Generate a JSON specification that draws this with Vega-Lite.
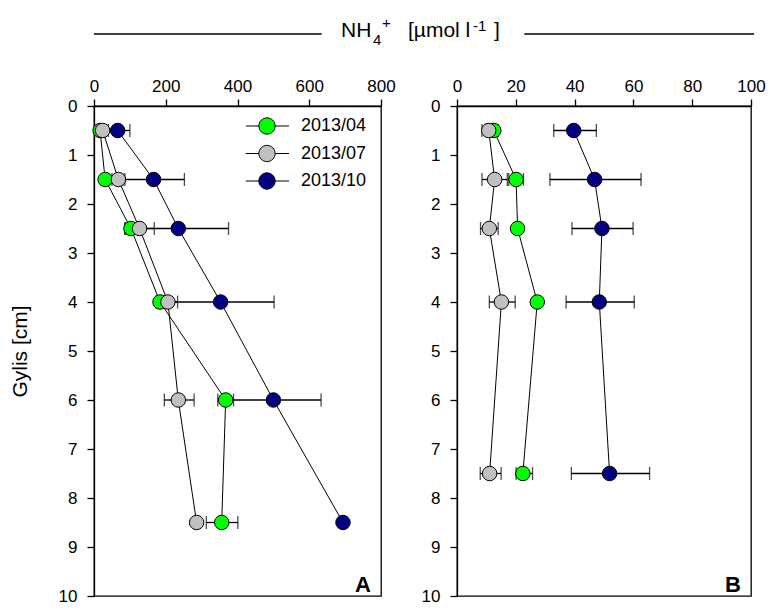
{
  "$schema": "https://vega.github.io/schema/vega-lite/v6.json",
  "padding": {"left": 8, "top": 0, "right": 0, "bottom": 0},
  "config": {
    "font": "Liberation Sans",
    "view": {"stroke": "black", "strokeWidth": 1.3},
    "axis": {
      "grid": false,
      "domainColor": "black",
      "domainWidth": 1.3,
      "tickColor": "black",
      "tickWidth": 1.3,
      "tickSize": 7,
      "labelColor": "black",
      "labelFont": "Liberation Sans",
      "labelFontSize": 17,
      "labelFlush": false,
      "labelOverlap": false,
      "titleColor": "black",
      "titleFont": "Liberation Sans",
      "titleFontSize": 21,
      "titleFontWeight": "normal"
    },
    "legend": {
      "labelFont": "Liberation Sans",
      "labelFontSize": 18,
      "labelColor": "black"
    },
    "text": {"font": "Liberation Sans", "color": "black", "align": "left", "baseline": "alphabetic"}
  },
  "datasets": {
    "ammonium_a": [
      {"depth": 0.5, "date": "2013/04", "val": 17, "lo": 9, "hi": 25},
      {"depth": 0.5, "date": "2013/07", "val": 24, "lo": 8, "hi": 40},
      {"depth": 0.5, "date": "2013/10", "val": 66, "lo": 32, "hi": 100},
      {"depth": 1.5, "date": "2013/04", "val": 31, "lo": 21, "hi": 41},
      {"depth": 1.5, "date": "2013/07", "val": 68, "lo": 50, "hi": 86},
      {"depth": 1.5, "date": "2013/10", "val": 166, "lo": 80, "hi": 252},
      {"depth": 2.5, "date": "2013/04", "val": 103, "lo": 87, "hi": 119},
      {"depth": 2.5, "date": "2013/07", "val": 127, "lo": 86, "hi": 168},
      {"depth": 2.5, "date": "2013/10", "val": 235, "lo": 95, "hi": 375},
      {"depth": 4, "date": "2013/04", "val": 184, "lo": 172, "hi": 196},
      {"depth": 4, "date": "2013/07", "val": 206, "lo": 179, "hi": 233},
      {"depth": 4, "date": "2013/10", "val": 353, "lo": 204, "hi": 502},
      {"depth": 6, "date": "2013/04", "val": 367, "lo": 345, "hi": 389},
      {"depth": 6, "date": "2013/07", "val": 235, "lo": 196, "hi": 279},
      {"depth": 6, "date": "2013/10", "val": 500, "lo": 367, "hi": 633},
      {"depth": 8.5, "date": "2013/04", "val": 356, "lo": 313, "hi": 401},
      {"depth": 8.5, "date": "2013/07", "val": 286, "lo": 278, "hi": 294},
      {"depth": 8.5, "date": "2013/10", "val": 694, "lo": 690, "hi": 698}
    ],
    "ammonium_b": [
      {"depth": 0.5, "date": "2013/04", "val": 12.5, "lo": 11, "hi": 14},
      {"depth": 0.5, "date": "2013/07", "val": 10.8, "lo": 8.5, "hi": 13.1},
      {"depth": 0.5, "date": "2013/10", "val": 39.7, "lo": 32.9, "hi": 47.4},
      {"depth": 1.5, "date": "2013/04", "val": 20.1, "lo": 17.6, "hi": 22.6},
      {"depth": 1.5, "date": "2013/07", "val": 12.8, "lo": 8.5, "hi": 17.1},
      {"depth": 1.5, "date": "2013/10", "val": 46.8, "lo": 31.6, "hi": 62.6},
      {"depth": 2.5, "date": "2013/04", "val": 20.6, "lo": 19.6, "hi": 21.6},
      {"depth": 2.5, "date": "2013/07", "val": 11.0, "lo": 8.0, "hi": 14.0},
      {"depth": 2.5, "date": "2013/10", "val": 49.3, "lo": 39.1, "hi": 59.9},
      {"depth": 4, "date": "2013/04", "val": 27.3, "lo": 26.3, "hi": 28.3},
      {"depth": 4, "date": "2013/07", "val": 15.1, "lo": 11.0, "hi": 19.8},
      {"depth": 4, "date": "2013/10", "val": 48.4, "lo": 37.1, "hi": 60.3},
      {"depth": 7.5, "date": "2013/04", "val": 22.4, "lo": 20.1, "hi": 25.7},
      {"depth": 7.5, "date": "2013/07", "val": 11.1, "lo": 7.9, "hi": 15.0},
      {"depth": 7.5, "date": "2013/10", "val": 51.9, "lo": 38.9, "hi": 65.5}
    ]
  },
  "spacing": 8,
  "vconcat": [
    {
      "width": 660,
      "height": 66,
      "view": {"stroke": "transparent"},
      "data": {"values": [{"t": "NH"}]},
      "encoding": {
        "y": {"datum": 0.5, "type": "quantitative", "scale": {"domain": [0, 1]}, "axis": null}
      },
      "layer": [
        {
          "mark": {"type": "rule", "color": "black", "strokeWidth": 1.5},
          "encoding": {
            "x": {"datum": 0, "type": "quantitative", "scale": {"domain": [0, 1]}, "axis": null},
            "x2": {"datum": 0.345}
          }
        },
        {
          "mark": {"type": "rule", "color": "black", "strokeWidth": 1.5},
          "encoding": {"x": {"datum": 0.652, "type": "quantitative"}, "x2": {"datum": 1.0}}
        },
        {
          "mark": {"type": "text", "fontSize": 21, "dx": -83, "dy": 3.4},
          "encoding": {"x": {"datum": 0.5, "type": "quantitative"}, "text": {"value": "NH"}}
        },
        {
          "mark": {"type": "text", "fontSize": 15, "dx": -51, "dy": 11},
          "encoding": {"x": {"datum": 0.5, "type": "quantitative"}, "text": {"value": "4"}}
        },
        {
          "mark": {"type": "text", "fontSize": 15, "dx": -42, "dy": -6},
          "encoding": {"x": {"datum": 0.5, "type": "quantitative"}, "text": {"value": "+"}}
        },
        {
          "mark": {"type": "text", "fontSize": 21, "dx": -16, "dy": 3.4},
          "encoding": {"x": {"datum": 0.5, "type": "quantitative"}, "text": {"value": "[µmol l"}}
        },
        {
          "mark": {"type": "text", "fontSize": 15, "dx": 49, "dy": -2.6},
          "encoding": {"x": {"datum": 0.5, "type": "quantitative"}, "text": {"value": "-1"}}
        },
        {
          "mark": {"type": "text", "fontSize": 21, "dx": 70, "dy": 3.4},
          "encoding": {"x": {"datum": 0.5, "type": "quantitative"}, "text": {"value": "]"}}
        }
      ]
    },
    {
      "spacing": 24,
      "resolve": {"scale": {"x": "independent", "y": "independent", "fill": "independent"}, "legend": {"fill": "independent"}},
      "hconcat": [
        {
          "width": 287,
          "height": 490,
          "data": {"name": "ammonium_a"},
          "encoding": {
            "y": {
              "field": "depth", "type": "quantitative",
              "scale": {"domain": [0, 10], "reverse": true, "nice": false},
              "axis": {"values": [0, 1, 2, 3, 4, 5, 6, 7, 8, 9, 10], "labelPadding": 10, "title": "Gylis [cm]", "titlePadding": 28}
            }
          },
          "layer": [
            {
              "mark": {"type": "line", "color": "black", "strokeWidth": 1},
              "encoding": {
                "x": {"field": "val", "type": "quantitative", "scale": {"domain": [0, 800], "nice": false},
                  "axis": {"orient": "top", "values": [0, 200, 400, 600, 800], "labelPadding": 4, "title": null}},
                "detail": {"field": "date"},
                "order": {"field": "depth"}
              }
            },
            {
              "mark": {"type": "rule", "color": "black", "strokeWidth": 1.3},
              "encoding": {"x": {"field": "lo", "type": "quantitative"}, "x2": {"field": "hi"}}
            },
            {
              "mark": {"type": "tick", "orient": "vertical", "color": "black", "size": 13, "thickness": 1.3},
              "encoding": {"x": {"field": "lo", "type": "quantitative"}}
            },
            {
              "mark": {"type": "tick", "orient": "vertical", "color": "black", "size": 13, "thickness": 1.3},
              "encoding": {"x": {"field": "hi", "type": "quantitative"}}
            },
            {
              "mark": {"type": "point", "shape": "circle", "filled": true, "size": 210, "stroke": "black", "strokeWidth": 1, "opacity": 1},
              "encoding": {
                "x": {"field": "val", "type": "quantitative"},
                "fill": {
                  "field": "date", "type": "nominal",
                  "scale": {"domain": ["2013/04", "2013/07", "2013/10"], "range": ["#00ff00", "#c0c0c0", "#000080"]},
                  "legend": {
                    "orient": "none", "legendX": 164, "legendY": 11, "title": null, "padding": 0,
                    "symbolType": "M1,0A1,1,0,1,1,-1,0A1,1,0,1,1,1,0Z M-2.6,0H-1 M1,0H2.7",
                    "symbolSize": 266, "symbolStrokeColor": "black", "symbolStrokeWidth": 1,
                    "symbolOpacity": 1, "labelOffset": 25, "rowPadding": 5.5
                  }
                }
              }
            },
            {
              "transform": [{"filter": {"and": [{"field": "depth", "equal": 0.5}, {"field": "date", "equal": "2013/04"}]}}],
              "mark": {"type": "text", "fontSize": 22, "fontWeight": "bold", "align": "right", "baseline": "alphabetic", "dx": -10, "dy": -4},
              "encoding": {
                "x": {"datum": 800, "type": "quantitative"},
                "y": {"datum": 10, "type": "quantitative"},
                "text": {"value": "A"}
              }
            }
          ]
        },
        {
          "width": 294,
          "height": 490,
          "data": {"name": "ammonium_b"},
          "encoding": {
            "y": {
              "field": "depth", "type": "quantitative",
              "scale": {"domain": [0, 10], "reverse": true, "nice": false},
              "axis": {"values": [0, 1, 2, 3, 4, 5, 6, 7, 8, 9, 10], "labelPadding": 10, "title": null}
            }
          },
          "layer": [
            {
              "mark": {"type": "line", "color": "black", "strokeWidth": 1},
              "encoding": {
                "x": {"field": "val", "type": "quantitative", "scale": {"domain": [0, 100], "nice": false},
                  "axis": {"orient": "top", "values": [0, 20, 40, 60, 80, 100], "labelPadding": 4, "title": null}},
                "detail": {"field": "date"},
                "order": {"field": "depth"}
              }
            },
            {
              "mark": {"type": "rule", "color": "black", "strokeWidth": 1.3},
              "encoding": {"x": {"field": "lo", "type": "quantitative"}, "x2": {"field": "hi"}}
            },
            {
              "mark": {"type": "tick", "orient": "vertical", "color": "black", "size": 13, "thickness": 1.3},
              "encoding": {"x": {"field": "lo", "type": "quantitative"}}
            },
            {
              "mark": {"type": "tick", "orient": "vertical", "color": "black", "size": 13, "thickness": 1.3},
              "encoding": {"x": {"field": "hi", "type": "quantitative"}}
            },
            {
              "mark": {"type": "point", "shape": "circle", "filled": true, "size": 210, "stroke": "black", "strokeWidth": 1, "opacity": 1},
              "encoding": {
                "x": {"field": "val", "type": "quantitative"},
                "fill": {
                  "field": "date", "type": "nominal",
                  "scale": {"domain": ["2013/04", "2013/07", "2013/10"], "range": ["#00ff00", "#c0c0c0", "#000080"]},
                  "legend": null
                }
              }
            },
            {
              "transform": [{"filter": {"and": [{"field": "depth", "equal": 0.5}, {"field": "date", "equal": "2013/04"}]}}],
              "mark": {"type": "text", "fontSize": 22, "fontWeight": "bold", "align": "right", "baseline": "alphabetic", "dx": -10, "dy": -4},
              "encoding": {
                "x": {"datum": 100, "type": "quantitative"},
                "y": {"datum": 10, "type": "quantitative"},
                "text": {"value": "B"}
              }
            }
          ]
        }
      ]
    }
  ]
}
